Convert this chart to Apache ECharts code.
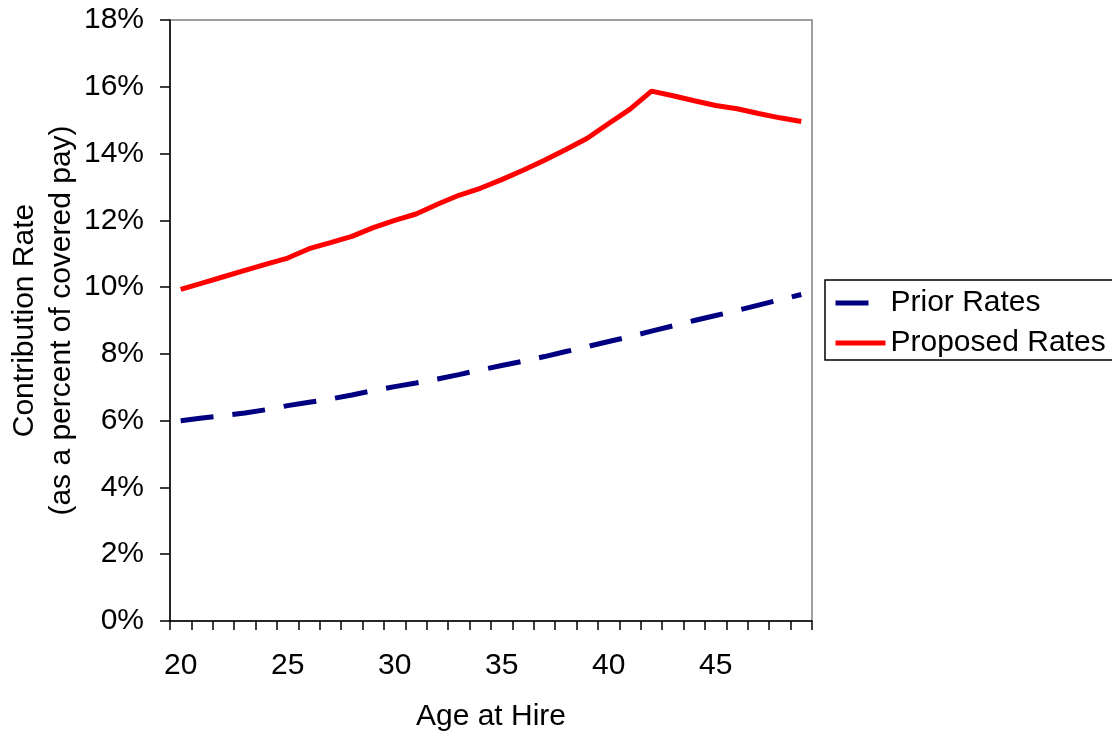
<!DOCTYPE html>
<html>
<head>
<meta charset="utf-8">
<style>
  html, body { margin: 0; padding: 0; background: #fff; }
  #chart { width: 1112px; height: 740px; }
</style>
<script src="https://cdn.jsdelivr.net/npm/echarts@6/dist/echarts.min.js"></script>
</head>
<body>
<div id="chart"></div>
<script>
// Age at hire (x categories)
const ages = [20, 21, 22, 23, 24, 25, 26, 27, 28, 29,
              30, 31, 32, 33, 34, 35, 36, 37, 38, 39,
              40, 41, 42, 43, 44, 45, 46, 47, 48, 49];

// Contribution rates, percent of covered pay
const priorRates = [6.00, 6.08, 6.15, 6.23, 6.33, 6.45, 6.55, 6.65, 6.77, 6.90,
                    7.02, 7.13, 7.25, 7.38, 7.52, 7.65, 7.78, 7.92, 8.07, 8.22,
                    8.37, 8.52, 8.68, 8.84, 9.00, 9.15, 9.30, 9.46, 9.62, 9.78];
const proposedRates = [9.93, 10.12, 10.31, 10.50, 10.69, 10.87, 11.15, 11.33, 11.52, 11.78,
                       12.00, 12.19, 12.48, 12.75, 12.96, 13.22, 13.50, 13.80, 14.12, 14.46,
                       14.90, 15.33, 15.87, 15.73, 15.58, 15.44, 15.34, 15.20, 15.07, 14.96];

const seriesNames = ['Prior Rates', 'Proposed Rates'];
const xTitle = 'Age at Hire';
const yTitle = 'Contribution Rate\n(as a percent of covered pay)';

const FONT = '"Liberation Sans", Arial, sans-serif';
const FS = 30;

const PRIOR_LINE = { color: '#000080', width: 5, type: [33, 19], cap: 'butt' };
const PROPOSED_LINE = { color: '#ff0000', width: 5, type: 'solid' };

const chart = echarts.init(document.getElementById('chart'));
chart.setOption({
  animation: false,
  backgroundColor: '#ffffff',
  textStyle: { fontFamily: FONT, color: '#000' },
  grid: {
    left: 170, right: 300, top: 20, bottom: 119,
    containLabel: false,
    outerBoundsMode: 'none',
    show: true, borderColor: '#808080', borderWidth: 1.5, backgroundColor: 'transparent'
  },
  legend: {
    orient: 'vertical',
    left: 825, top: 280,
    padding: [8, 30, 2, 8],
    itemWidth: 50, itemHeight: 28, itemGap: 10,
    borderColor: '#000', borderWidth: 1.5,
    textStyle: { fontFamily: FONT, fontSize: FS, color: '#000' },
    itemStyle: { opacity: 0 },
    data: [
      { name: seriesNames[0], lineStyle: PRIOR_LINE, itemStyle: { opacity: 0 } },
      { name: seriesNames[1], lineStyle: PROPOSED_LINE, itemStyle: { opacity: 0 } }
    ]
  },
  xAxis: {
    type: 'category',
    data: ages,
    boundaryGap: true,
    name: xTitle,
    nameLocation: 'middle',
    nameGap: 81,
    nameMoveOverlap: false,
    nameTextStyle: { fontFamily: FONT, fontSize: FS, color: '#000' },
    axisLine: { lineStyle: { color: '#000', width: 1.5 } },
    axisTick: { show: true, interval: 0, length: 9, lineStyle: { color: '#000', width: 1.5 } },
    axisLabel: { interval: 4, margin: 30, fontFamily: FONT, fontSize: FS, color: '#000' },
    splitLine: { show: false }
  },
  yAxis: {
    type: 'value',
    min: 0, max: 18, interval: 2,
    name: yTitle,
    nameLocation: 'middle',
    nameGap: 90,
    nameMoveOverlap: false,
    nameRotate: 90,
    nameTextStyle: { fontFamily: FONT, fontSize: FS, color: '#000', lineHeight: 37 },
    axisLine: { show: true, lineStyle: { color: '#000', width: 1.5 } },
    axisTick: { show: true, length: 10, lineStyle: { color: '#000', width: 1.5 } },
    axisLabel: { margin: 26, formatter: '{value}%', fontFamily: FONT, fontSize: FS, color: '#000' },
    splitLine: { show: false }
  },
  series: [
    {
      name: seriesNames[0],
      type: 'line',
      data: priorRates,
      symbol: 'none',
      lineStyle: PRIOR_LINE,
      itemStyle: { color: '#000080' }
    },
    {
      name: seriesNames[1],
      type: 'line',
      data: proposedRates,
      symbol: 'none',
      lineStyle: PROPOSED_LINE,
      itemStyle: { color: '#ff0000' }
    }
  ]
});
</script>
</body>
</html>
